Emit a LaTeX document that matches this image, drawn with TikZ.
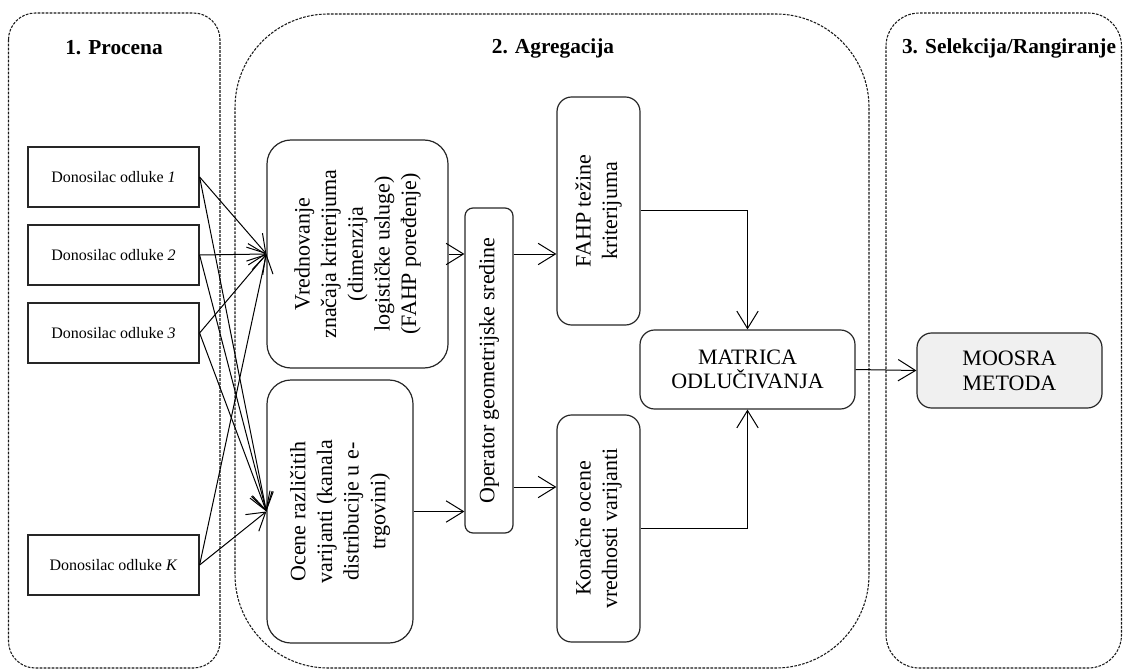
\documentclass[tikz,border=0pt]{standalone}
\usepackage{fontspec}
\setmainfont{Liberation Serif}
\usepackage{graphicx}
\usetikzlibrary{arrows.meta,calc}

% multi-line text set upright-to-left (reading bottom to top)
\newcommand\rottext[1]{\rotatebox{90}{\begin{tabular}{@{}c@{}}#1\end{tabular}}}

\begin{document}
\begin{tikzpicture}[x=0.75pt,y=-0.75pt,
  phase/.style={draw=black!90, line width=0.8pt, dash pattern=on 2pt off 1pt},
  phasetitle/.style={font=\fontsize{16}{19}\selectfont\bfseries, inner sep=0pt},
  wh/.style 2 args={minimum width=#1*0.75pt, minimum height=#2*0.75pt},
  dmbox/.style={draw=black!85, line width=0.9pt, wh={171}{60}, inner sep=0pt,
                font=\fontsize{12}{14}\selectfont},
  stagebox/.style={draw=black!85, line width=0.9pt, rounded corners=#1, inner sep=0pt,
                font=\fontsize{16.5}{20}\selectfont, align=center},
  conn/.style={draw=black, line width=0.75pt, -{Straight Barb[length=13pt,width=16pt]}}
]
\useasboundingbox (0,0) rectangle (1123,670);

% phase frames
\draw[phase, rounded corners=20pt] (8.5,13) rectangle (220,668);
\draw[phase, rounded corners=70pt] (235,14) rectangle (869,668);
\draw[phase, rounded corners=25pt] (886,13) rectangle (1121.5,668);

\node[phasetitle] (t1) at (114,48) {1. Procena};
\node[phasetitle] (t2) at (553,48) {2. Agregacija};
\node[phasetitle] (t3) at (1009,48) {3. Selekcija/Rangiranje};

% decision makers
\node[dmbox] (d1) at (113.5,177) {Donosilac odluke \textit{1}};
\node[dmbox] (d2) at (113.5,255) {Donosilac odluke \textit{2}};
\node[dmbox] (d3) at (113.5,333) {Donosilac odluke \textit{3}};
\node[dmbox] (dk) at (113.5,565) {Donosilac odluke \textit{K}};

% aggregation stage
\node[stagebox=18pt, wh={181}{228}] (vred) at (357.5,254)
  {\rottext{Vrednovanje\\značaja kriterijuma\\(dimenzija\\logističke usluge)\\(FAHP poređenje)}};
\node[stagebox=18pt, wh={146}{263}] (ocene) at (340,511.5)
  {\rottext{Ocene različitih\\varijanti (kanala\\distribucije u e-\\trgovini)}};
\node[stagebox=6pt, wh={48}{325}] (oper) at (489,370.5)
  {\rottext{Operator geometrijske sredine}};
\node[stagebox=11pt, wh={83}{228}] (fahp) at (598.5,211)
  {\rottext{FAHP težine\\kriterijuma}};
\node[stagebox=11pt, wh={83}{227}] (kon) at (598.5,528.5)
  {\rottext{Konačne ocene\\vrednosti varijanti}};
\node[stagebox=11pt, wh={215}{79}, font=\fontsize{16.5}{18}\selectfont] (mat) at (747.5,369.5)
  {MATRICA\\ODLUČIVANJA};

% selection stage
\node[stagebox=11pt, wh={185}{75}, fill=black!6, font=\fontsize{16.5}{18.5}\selectfont] (moo) at (1009.5,370.5)
  {MOOSRA\\METODA};

% decision makers to both evaluation boxes
\foreach \d in {d1,d2,d3,dk}{
  \draw[conn] (\d.east) -- (vred.west);
  \draw[conn] (\d.east) -- (ocene.west);
}

\draw[conn] (vred.east) -- (vred.east -| oper.west);
\draw[conn] (ocene.east) -- (ocene.east -| oper.west);

\coordinate (kin) at ($(kon.west)+(0,-41.5)$);
\draw[conn] (oper.east |- vred.east) -- (vred.east -| fahp.west);
\draw[conn] (oper.east |- kin) -- (kin);

\draw[conn] (fahp.east) -| (mat.north);
\draw[conn] (kon.east) -| (mat.south);
\draw[conn] (mat.east) -- (moo.west);
\end{tikzpicture}
\end{document}
